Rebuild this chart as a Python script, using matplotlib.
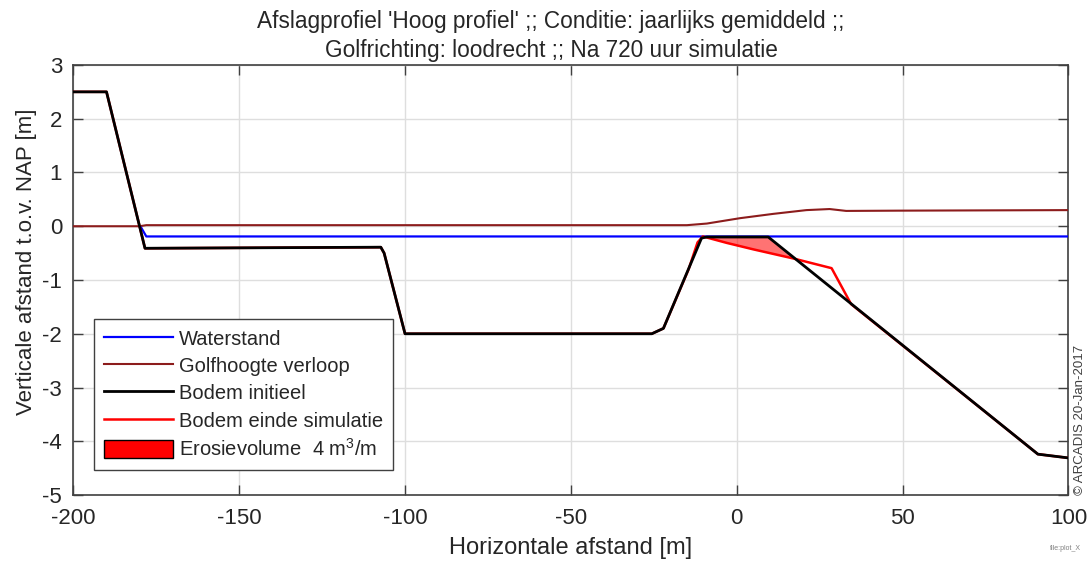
import numpy as np
import matplotlib
matplotlib.use("Agg")
import matplotlib.pyplot as plt
from matplotlib.patches import Patch
from matplotlib.lines import Line2D

plt.rcParams['font.family'] = ['Liberation Sans', 'DejaVu Sans']
plt.rcParams['mathtext.fontset'] = 'custom'
plt.rcParams['mathtext.rm'] = 'Liberation Sans'
plt.rcParams['axes.unicode_minus'] = False

# Profielen (afstand in m, hoogte in m t.o.v. NAP)
x_bodem = [-200, -190, -178.4, -107.3, -106.3, -100, -25.6, -22.1, -10.6, -9.0, 9.5, 90.8, 100]
z_bodem = [2.5, 2.5, -0.41, -0.39, -0.50, -2.0, -2.0, -1.9, -0.22, -0.2, -0.2, -4.24, -4.31]

x_eind = [-200, -190, -178.4, -107.3, -106.3, -100, -25.6, -22.1, -14.5, -11.8, -10.2,
          -3.0, 5.0, 17.1, 28.6, 34.5, 90.8, 100]
z_eind = [2.5, 2.5, -0.41, -0.39, -0.50, -2.0, -2.0, -1.9, -0.8, -0.3, -0.19,
          -0.31, -0.43, -0.6, -0.78, -1.45, -4.24, -4.31]

x_water = [-179.5, -178.0, 100]
z_water = [-0.03, -0.19, -0.19]

x_golf = [-200, -180, -178, -60, -15, -9, 1, 11, 21, 28, 33, 49, 100]
z_golf = [0, 0, 0.02, 0.02, 0.02, 0.05, 0.15, 0.23, 0.30, 0.32, 0.285, 0.29, 0.30]

erosievolume = 4

fig = plt.figure(figsize=(10.88, 5.64), dpi=100)
ax = fig.add_axes([0.0674, 0.1223, 0.9146, 0.7625])

# erosie: waar de eindbodem onder de initiele bodem ligt
xx = np.union1d(x_bodem, x_eind)
zb = np.interp(xx, x_bodem, z_bodem)
ze = np.interp(xx, x_eind, z_eind)
ax.fill_between(xx, zb, ze, where=zb > ze, interpolate=True,
                facecolor=(1, 0, 0, 0.55), edgecolor='none', zorder=2)

ax.plot(x_golf, z_golf, color='#8c1c1c', lw=1.5, zorder=3)
ax.plot(x_water, z_water, color='blue', lw=1.6, zorder=3)
ax.plot(x_eind, z_eind, color='red', lw=1.8, zorder=4)
ax.plot(x_bodem, z_bodem, color='black', lw=2.0, zorder=5)

ax.set_xlim(-200, 100)
ax.set_ylim(-5, 3)
ax.set_xticks(np.arange(-200, 101, 50))
ax.set_yticks(np.arange(-5, 4, 1))
ax.grid(True, color='#dedede', lw=1)
ax.set_axisbelow(True)
ax.tick_params(direction='in', length=7, width=1, top=True, right=True,
               labelsize=16, colors='#404040', labelcolor='#262626')
ax.tick_params(axis='x', pad=9)
ax.tick_params(axis='y', pad=8)
for s in ax.spines.values():
    s.set_color('#404040')
    s.set_linewidth(1.2)

ax.set_xlabel('Horizontale afstand [m]', fontsize=17, color='#262626')
ax.xaxis.set_label_coords(0.5, -0.098)
ax.set_ylabel('Verticale afstand t.o.v. NAP [m]', fontsize=16, color='#262626')
ax.yaxis.set_label_coords(-0.037, 0.543)

fig.text(551 / 1088, 1 - 28 / 564,
         "Afslagprofiel 'Hoog profiel' ;; Conditie: jaarlijks gemiddeld ;;",
         ha='center', va='baseline', fontsize=16.3, color='#262626')
fig.text(551 / 1088, 1 - 57 / 564,
         "Golfrichting: loodrecht ;; Na 720 uur simulatie",
         ha='center', va='baseline', fontsize=16.3, color='#262626')

handles = [
    Line2D([], [], color='blue', lw=1.6),
    Line2D([], [], color='#8c1c1c', lw=1.5),
    Line2D([], [], color='black', lw=2.0),
    Line2D([], [], color='red', lw=1.8),
    Patch(facecolor='red', edgecolor='black', lw=1),
]
labels = ['Waterstand', 'Golfhoogte verloop', 'Bodem initieel',
          'Bodem einde simulatie', r'Erosievolume  %d m$^3$/m' % erosievolume]
leg = ax.legend(handles, labels, loc='lower left', bbox_to_anchor=(0.021, 0.058),
                borderaxespad=0, fontsize=14.5, handlelength=3.4, handleheight=1.0,
                handletextpad=0.3, labelspacing=0.37, borderpad=0.5,
                fancybox=False, framealpha=1, edgecolor='#404040')
leg.get_frame().set_linewidth(1.0)
for t in leg.get_texts():
    t.set_color('#262626')

fig.text(1080 / 1088, 1 - 495 / 564, '\u00a9 ARCADIS 20-Jan-2017', rotation=90,
         ha='center', va='bottom', fontsize=9.5, color='#404040')
fig.text(1050 / 1088, 1 - 548 / 564, 'file:plot_X', ha='left', va='center',
         fontsize=5, color='#808080')

fig.savefig('out.png', dpi=100)
